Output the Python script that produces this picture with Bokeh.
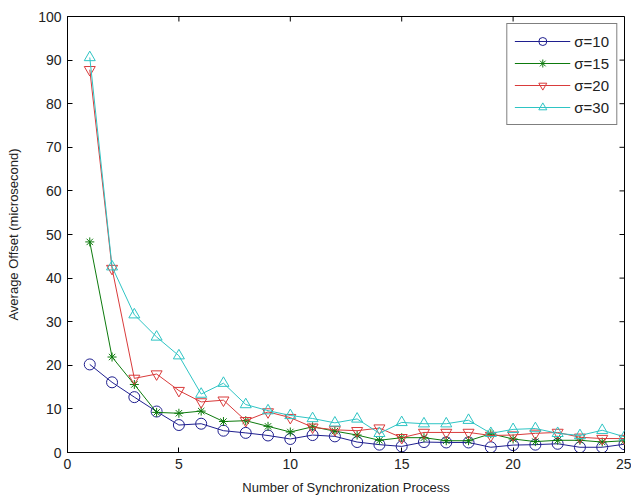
import math
from bokeh.plotting import figure
from bokeh.models import Range1d, FixedTicker
from bokeh.embed import file_html
from bokeh.resources import INLINE

x = list(range(1, 26))
s10 = [20.2, 16.1, 12.7, 9.4, 6.3, 6.6, 5.0, 4.5, 3.9, 3.1, 4.0, 3.7, 2.4, 1.8, 1.4, 2.4, 2.3, 2.3, 1.2, 1.7, 1.8, 2.0, 1.2, 1.2, 1.9]
s15 = [48.3, 21.9, 15.6, 9.2, 9.0, 9.5, 7.1, 7.3, 6.0, 4.7, 5.9, 4.9, 4.0, 2.8, 3.4, 3.4, 2.7, 2.7, 4.3, 3.1, 2.5, 2.8, 2.8, 2.4, 2.7]
s20 = [87.8, 42.2, 17.0, 18.0, 14.2, 11.6, 12.0, 7.3, 9.3, 8.0, 5.8, 5.2, 5.0, 5.6, 3.4, 4.6, 4.6, 4.6, 3.9, 4.0, 4.4, 4.6, 3.5, 3.2, 3.2]
s30 = [90.6, 42.6, 31.6, 26.5, 22.2, 13.4, 15.9, 11.0, 9.6, 8.5, 7.8, 6.8, 7.7, 4.4, 6.9, 6.6, 6.6, 7.4, 4.4, 5.3, 5.5, 4.4, 3.9, 5.1, 3.6]

series = [
    ("σ=10", s10, "#1f1f8f", "circle"),
    ("σ=15", s15, "#0d7a0d", "asterisk"),
    ("σ=20", s20, "#d93b3b", "inverted_triangle"),
    ("σ=30", s30, "#2ec4c4", "triangle"),
]

x_ticks = [0, 5, 10, 15, 20, 25]
y_ticks = [0, 10, 20, 30, 40, 50, 60, 70, 80, 90, 100]
x_min, x_max = 0, 25
y_min, y_max = 0, 100

p = figure(width=631, height=501, output_backend="svg", toolbar_location=None,
           x_range=Range1d(x_min, x_max), y_range=Range1d(y_min, y_max),
           min_border_left=67, min_border_right=7, min_border_top=16, min_border_bottom=49)
p.grid.visible = False
p.outline_line_color = "black"
p.outline_line_width = 1
p.background_fill_color = "white"
p.border_fill_color = "white"

font = "Liberation Sans"
for ax in (p.xaxis[0], p.yaxis[0]):
    ax.major_tick_in = 5
    ax.major_tick_out = 0
    ax.minor_tick_in = 0
    ax.minor_tick_out = 0
    ax.major_label_text_font = font
    ax.major_label_text_font_size = "14px"
    ax.major_label_text_color = "#222222"
    ax.axis_label_text_font = font
    ax.axis_label_text_font_size = "13px"
    ax.axis_label_text_font_style = "normal"
    ax.axis_label_text_color = "#222222"
    ax.axis_line_color = "black"
    ax.major_tick_line_color = "black"
p.xaxis[0].ticker = FixedTicker(ticks=x_ticks)
p.yaxis[0].ticker = FixedTicker(ticks=y_ticks)
p.xaxis[0].axis_label = "Number of Synchronization Process"
p.yaxis[0].axis_label = "Average Offset (microsecond)"
p.xaxis[0].major_label_standoff = 6
p.yaxis[0].major_label_standoff = 6
p.xaxis[0].axis_label_standoff = 8
p.yaxis[0].axis_label_standoff = 14

# inward ticks on the top and right edges of the box (MATLAB style)
p.ray(x=x_ticks, y=[y_max] * len(x_ticks), length=5, length_units="screen",
      angle=-math.pi / 2, line_color="black", line_width=1)
p.ray(x=[x_max] * len(y_ticks), y=y_ticks, length=5, length_units="screen",
      angle=math.pi, line_color="black", line_width=1)

for label, ys, color, marker in series:
    p.line(x, ys, line_color=color, line_width=1, legend_label=label)
    p.scatter(x, ys, marker=marker, size=11 if marker != "asterisk" else 9,
              line_color=color, fill_alpha=0, line_width=1, legend_label=label)

lg = p.legend[0]
lg.location = "top_right"
lg.margin = 7
lg.padding = 7
lg.spacing = 2
lg.label_height = 20
lg.glyph_height = 20
lg.glyph_width = 56
lg.label_standoff = 4
lg.label_text_font = font
lg.label_text_font_size = "15px"
lg.label_text_color = "#222222"
lg.border_line_color = "black"
lg.border_line_width = 1
lg.background_fill_color = "white"
lg.background_fill_alpha = 1

open("out.html", "w").write(file_html(p, INLINE))
